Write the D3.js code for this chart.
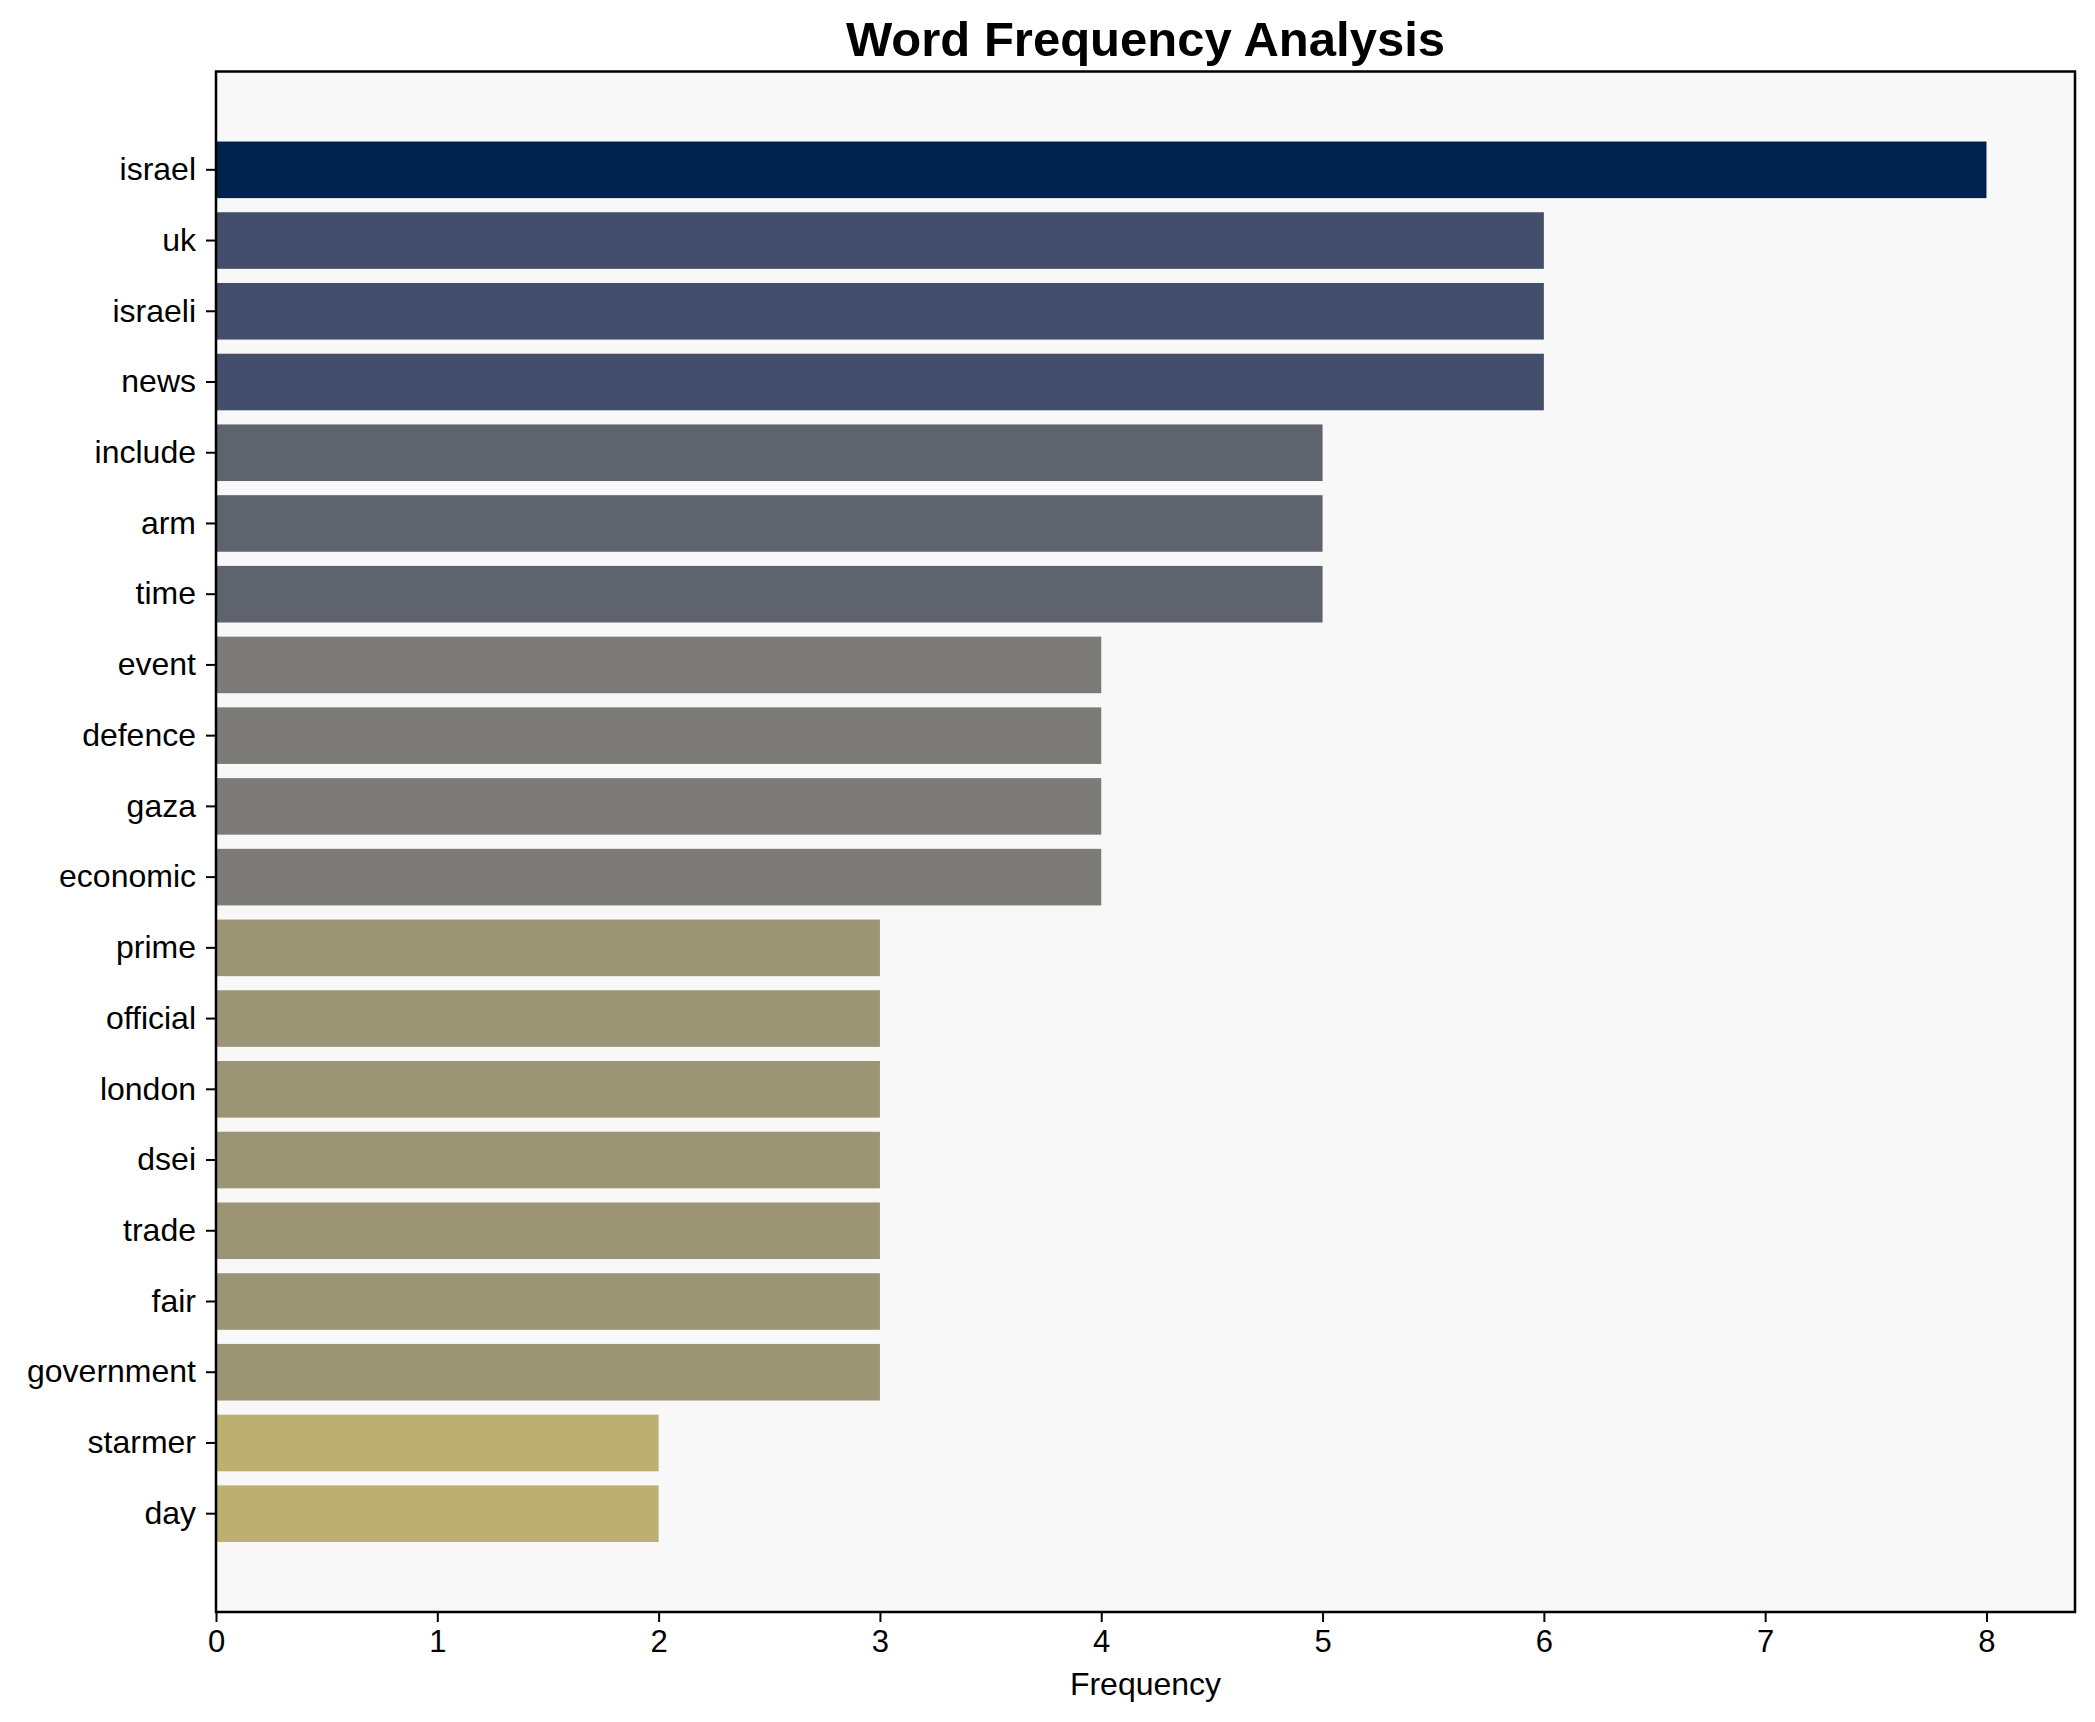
<!DOCTYPE html>
<html>
<head>
<meta charset="utf-8">
<script src="https://cdn.jsdelivr.net/npm/d3@7"></script>
<style>
  body { margin: 0; background: #fff; }
  text { font-family: "Liberation Sans", Arial, sans-serif; }
</style>
</head>
<body>
<div id="chart"></div>
<script>
// word counts, top to bottom
var words = ["israel", "uk", "israeli", "news", "include", "arm", "time", "event", "defence", "gaza",
             "economic", "prime", "official", "london", "dsei", "trade", "fair", "government", "starmer", "day"]
var counts = [8, 6, 6, 6, 5, 5, 5, 4, 4, 4, 4, 3, 3, 3, 3, 3, 3, 3, 2, 2]
var xTicks = [0, 1, 2, 3, 4, 5, 6, 7, 8]

var svgWidth = 2095
var svgHeight = 1722
var margin = { top: 71.5, right: 20, bottom: 110, left: 216 }
var chartWidth = 2075 - margin.left
var chartHeight = 1612 - margin.top

var svg = d3.select("#chart")
  .append("svg")
  .attr("width", svgWidth)
  .attr("height", svgHeight)

var chartGroup = svg.append("g")
  .attr("transform", `translate(${margin.left}, ${margin.top})`)

var xLinearScale = d3.scaleLinear()
  .domain([0, d3.max(counts) * 1.05])
  .range([0, chartWidth])

var yBandScale = d3.scaleBand()
  .domain(words)
  .range([0, chartHeight])
  .paddingInner(0.2)
  .paddingOuter(0.99)

// cividis-like ramp (matplotlib stops)
var maxCount = d3.max(counts)
var ramp = d3.scaleLinear()
  .domain([0, 0.25, 0.375, 0.5, 0.625, 0.75, 1])
  .range(["#00224e", "#434e6c", "#5f636e", "#7c7b78", "#9b9475", "#bcaf6f", "#fee838"])
var colour = v => ramp((maxCount - v) / maxCount)

chartGroup.append("rect")
  .attr("width", chartWidth)
  .attr("height", chartHeight)
  .attr("fill", "#f8f8f8")

chartGroup.selectAll(".bar")
  .data(words)
  .enter()
  .append("rect")
  .attr("class", "bar")
  .attr("x", 0)
  .attr("y", d => yBandScale(d))
  .attr("width", (d, i) => xLinearScale(counts[i]))
  .attr("height", yBandScale.bandwidth())
  .attr("fill", (d, i) => colour(counts[i]))

var xAxis = d3.axisBottom(xLinearScale)
  .tickValues(xTicks)
  .tickFormat(d3.format("d"))
  .tickSize(10)
  .tickPadding(8)
var yAxis = d3.axisLeft(yBandScale)
  .tickSize(10)
  .tickPadding(10)

var gx = chartGroup.append("g")
  .attr("transform", `translate(0, ${chartHeight})`)
  .call(xAxis)
var gy = chartGroup.append("g")
  .call(yAxis)

gx.select(".domain").remove()
gy.select(".domain").remove()
gx.selectAll("text").attr("font-size", 31).attr("fill", "#000")
gy.selectAll("text").attr("font-size", 32).attr("fill", "#000")
svg.selectAll(".tick line").attr("stroke", "#000").attr("stroke-width", 2)

// frame
chartGroup.append("rect")
  .attr("width", chartWidth)
  .attr("height", chartHeight)
  .attr("fill", "none")
  .attr("stroke", "#000")
  .attr("stroke-width", 2.5)

svg.append("text")
  .attr("x", margin.left + chartWidth / 2)
  .attr("y", 1695)
  .attr("text-anchor", "middle")
  .attr("font-size", 32)
  .text("Frequency")

svg.append("text")
  .attr("x", margin.left + chartWidth / 2)
  .attr("y", 56)
  .attr("text-anchor", "middle")
  .attr("font-size", 49)
  .attr("font-weight", "bold")
  .text("Word Frequency Analysis")
</script>
</body>
</html>
